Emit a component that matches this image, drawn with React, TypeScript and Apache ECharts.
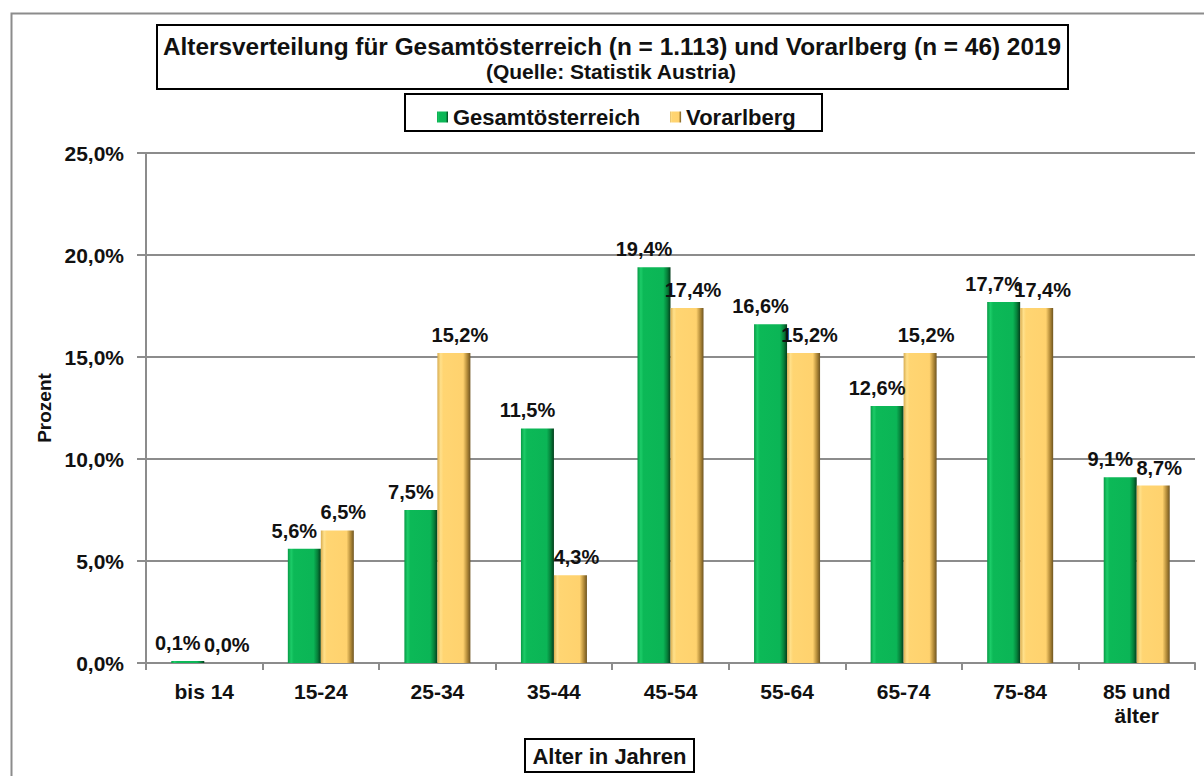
import React, { useEffect, useRef } from "react";
import * as echarts from "echarts";

const categories = ["bis 14", "15-24", "25-34", "35-44", "45-54", "55-64", "65-74", "75-84", "85 und\nälter"];
const gesamtValues = [0.1, 5.6, 7.5, 11.5, 19.4, 16.6, 12.6, 17.7, 9.1];
const vorarlbergValues = [0.0, 6.5, 15.2, 4.3, 17.4, 15.2, 15.2, 17.4, 8.7];
const seriesNames = ["Gesamtösterreich", "Vorarlberg"];
const titleText = "Altersverteilung für Gesamtösterreich (n = 1.113) und Vorarlberg (n = 46) 2019";
const subtitleText = "(Quelle: Statistik Austria)";
const yAxisName = "Prozent";
const xAxisName = "Alter in Jahren";

const FONT = "'Liberation Sans', Arial, sans-serif";

const fmt = (v: number) => v.toFixed(1).replace(".", ",") + "%";

const greenGrad = new echarts.graphic.LinearGradient(0, 0, 1, 0, [
  { offset: 0, color: "#079a45" },
  { offset: 0.1, color: "#1ccc68" },
  { offset: 0.18, color: "#0cb957" },
  { offset: 0.78, color: "#0bb556" },
  { offset: 0.9, color: "#06803a" },
  { offset: 1, color: "#023d1b" },
]);
const yellowGrad = new echarts.graphic.LinearGradient(0, 0, 1, 0, [
  { offset: 0, color: "#d9ad50" },
  { offset: 0.1, color: "#ffe08a" },
  { offset: 0.18, color: "#ffd572" },
  { offset: 0.78, color: "#ffd26e" },
  { offset: 0.9, color: "#b58d3a" },
  { offset: 1, color: "#6e5420" },
]);

export default function App() {
  const ref = useRef<HTMLDivElement>(null);
  useEffect(() => {
    if (!ref.current) return;
    const chart = echarts.init(ref.current, undefined, { renderer: "svg" });
    const labelBase = {
      show: true,
      position: "top" as const,
      distance: 8,
      fontFamily: FONT,
      fontWeight: "bold" as const,
      fontSize: 20,
      color: "#111",
      formatter: (p: any) => fmt(p.value),
    };
    chart.setOption({
      animation: false,
      backgroundColor: "#ffffff",
      textStyle: { fontFamily: FONT },
      grid: { left: 146, right: 9, top: 153, bottom: 113, containLabel: false },
      legend: {
        data: seriesNames,
        left: 432,
        top: 101,
        itemWidth: 11,
        itemHeight: 11,
        itemGap: 30,
        icon: "rect",
        textStyle: { fontFamily: FONT, fontWeight: "bold", fontSize: 22, color: "#111" },
      },
      xAxis: {
        type: "category",
        data: categories,
        axisLine: { lineStyle: { color: "#8c8c8c", width: 2 } },
        axisTick: { show: true, length: 7, lineStyle: { color: "#8c8c8c", width: 2 } },
        axisLabel: {
          fontFamily: FONT,
          fontWeight: "bold",
          fontSize: 21,
          color: "#111",
          margin: 16,
          lineHeight: 24,
        },
      },
      yAxis: {
        type: "value",
        min: 0,
        max: 25,
        interval: 5,
        name: yAxisName,
        nameLocation: "middle",
        nameRotate: 90,
        nameGap: 92,
        nameTextStyle: { fontFamily: FONT, fontWeight: "bold", fontSize: 19, color: "#111" },
        axisLine: { show: true, lineStyle: { color: "#8c8c8c", width: 2 } },
        axisTick: { show: true, length: 9, lineStyle: { color: "#8c8c8c", width: 2 } },
        splitLine: { lineStyle: { color: "#8c8c8c", width: 2 } },
        axisLabel: {
          fontFamily: FONT,
          fontWeight: "bold",
          fontSize: 21,
          color: "#111",
          margin: 22,
          formatter: (v: number) => fmt(v),
        },
      },
      series: [
        {
          name: seriesNames[0],
          type: "bar",
          data: gesamtValues,
          barWidth: 33,
          barGap: "0%",
          itemStyle: { color: greenGrad },
          label: { ...labelBase, offset: [-10, 0] },
        },
        {
          name: seriesNames[1],
          type: "bar",
          data: vorarlbergValues,
          barWidth: 33,
          barGap: "0%",
          itemStyle: { color: yellowGrad },
          label: { ...labelBase, offset: [6, 0] },
        },
      ],
      graphic: [
        {
          type: "rect",
          left: 9,
          top: 11,
          shape: { x: 0, y: 0, width: 1300, height: 900 },
          style: { fill: "none", stroke: "#8c8c8c", lineWidth: 2 },
          silent: true,
          z: -10,
        },
        {
          type: "rect",
          shape: { x: 157, y: 25, width: 911, height: 64 },
          style: { fill: "#fff", stroke: "#000", lineWidth: 2 },
          z: 1,
        },
        {
          type: "text",
          x: 612,
          y: 46,
          style: {
            text: titleText,
            fontFamily: FONT,
            fontWeight: "bold",
            fontSize: 24.4,
            fill: "#111",
            align: "center",
            verticalAlign: "middle",
          },
          z: 2,
        },
        {
          type: "text",
          x: 611,
          y: 71,
          style: {
            text: subtitleText,
            fontFamily: FONT,
            fontWeight: "bold",
            fontSize: 21,
            fill: "#111",
            align: "center",
            verticalAlign: "middle",
          },
          z: 2,
        },
        {
          type: "rect",
          shape: { x: 405, y: 94, width: 417, height: 37 },
          style: { fill: "none", stroke: "#000", lineWidth: 2 },
          z: 1,
        },
        {
          type: "rect",
          shape: { x: 525, y: 739, width: 169, height: 33 },
          style: { fill: "#fff", stroke: "#000", lineWidth: 2 },
          z: 1,
        },
        {
          type: "text",
          x: 609.5,
          y: 756,
          style: {
            text: xAxisName,
            fontFamily: FONT,
            fontWeight: "bold",
            fontSize: 22,
            fill: "#111",
            align: "center",
            verticalAlign: "middle",
          },
          z: 2,
        },
      ],
    });
    return () => chart.dispose();
  }, []);
  return (
    <div
      ref={ref}
      style={{ position: "fixed", left: 0, top: 0, width: 1204, height: 776 }}
    />
  );
}
